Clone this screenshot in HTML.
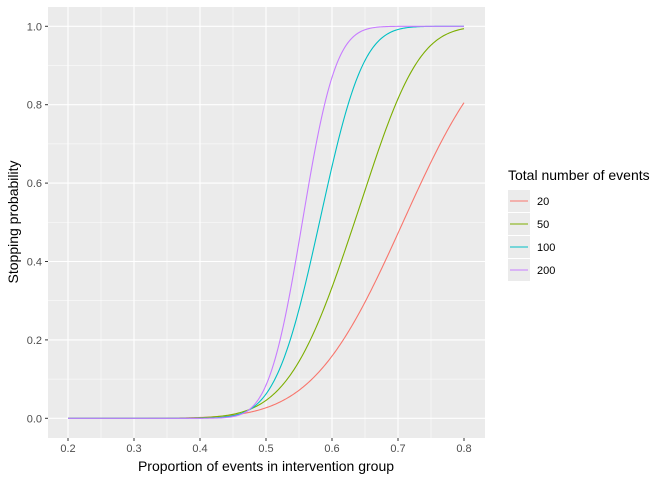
<!DOCTYPE html>
<html><head><meta charset="utf-8"><style>
body{margin:0;background:#fff;font-family:"Liberation Sans",sans-serif}
</style></head><body>
<svg id="s" width="672" height="480" xmlns="http://www.w3.org/2000/svg" font-family="Liberation Sans, sans-serif">
<rect x="48" y="7" width="437" height="431" fill="#ebebeb"/>
<g id="grid"></g>
<g id="curves" fill="none" stroke-width="1.1"></g>
<g font-size="11" fill="#4d4d4d" id="ticks"></g>
<text x="266" y="471" font-size="14" text-anchor="middle" fill="#000">Proportion of events in intervention group</text>
<text transform="translate(18,222) rotate(-90)" font-size="14" text-anchor="middle" fill="#000">Stopping probability</text>
<text x="508" y="180" font-size="14" fill="#000">Total number of events</text>
<g id="leg" font-size="11" fill="#000"></g>
</svg>
<script>
var ns="http://www.w3.org/2000/svg";
function el(p,t,a,txt){var e=document.createElementNS(ns,t);for(var k in a)e.setAttribute(k,a[k]);if(txt)e.textContent=txt;document.getElementById(p).appendChild(e);return e;}
function X(v){return 68+(v-0.2)*660;}
function Y(v){return 418.3-v*392;}
for(var i=0;i<13;i++){var v=0.15+i*0.05;if(v<0.17||v>0.83)continue;var major=Math.abs(v*10-Math.round(v*10))<1e-6;
el("grid","line",{x1:X(v),x2:X(v),y1:7,y2:438,stroke:"#fff","stroke-width":major?1.1:0.5});}
for(var i=0;i<11;i++){var v=i*0.1;var major=i%2==0;
el("grid","line",{x1:48,x2:485,y1:Y(v),y2:Y(v),stroke:"#fff","stroke-width":major?1.1:0.5});}
for(var i=2;i<=8;i++){var v=i/10;el("ticks","line",{x1:X(v),x2:X(v),y1:438,y2:441,stroke:"#333"});
el("ticks","text",{x:X(v),y:452,"text-anchor":"middle"},v.toFixed(1));}
for(var i=0;i<=5;i++){var v=i*0.2;el("ticks","line",{x1:45,x2:48,y1:Y(v),y2:Y(v),stroke:"#333"});
el("ticks","text",{x:42,y:Y(v)+4,"text-anchor":"end"},v.toFixed(1));}
function erf(x){var s=x<0?-1:1;x=Math.abs(x);var t=1/(1+0.3275911*x);var y=1-(((((1.061405429*t-1.453152027)*t)+1.421413741)*t-0.284496736)*t+0.254829592)*t*Math.exp(-x*x);return s*y;}
function Phi(z){return 0.5*(1+erf(z/Math.SQRT2));}
var S=[[20,9.3,0.7075,0,"#F8766D"],[50,12.6,0.634,15,"#7CAE00"],[100,19,0.581,10,"#00BFC4"],[200,25,0.555,0,"#C77CFF"]];
S.forEach(function(s,k){var d="";for(var j=0;j<=300;j++){var p=0.2+0.6*j/300;var q=p-s[2];var z=s[1]*q+(q>0?s[3]*q*q:0);var v=Phi(z);d+=(j?"L":"M")+X(p).toFixed(2)+","+Y(v).toFixed(2);}
el("curves","path",{d:d,stroke:s[4]});
var y=190+k*23;el("leg","rect",{x:508,y:y,width:22,height:22,fill:"#ebebeb"});
el("leg","line",{x1:510,x2:528,y1:y+11,y2:y+11,stroke:s[4],"stroke-width":1.1});
el("leg","text",{x:537,y:y+15},String(s[0]));});
</script>
</body></html>
